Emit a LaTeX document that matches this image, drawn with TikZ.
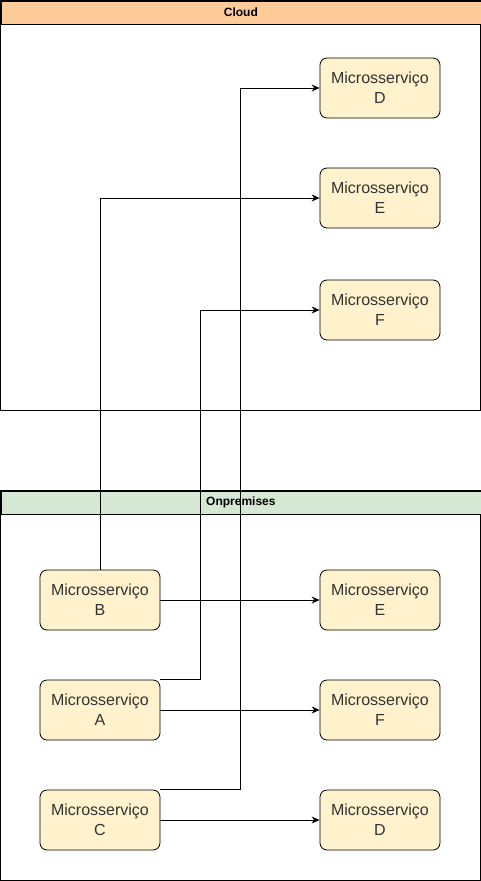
\documentclass[tikz,border=0pt]{standalone}
\usepackage{fontspec}
\setmainfont{Liberation Sans}
\usetikzlibrary{arrows.meta}
\definecolor{cloudorange}{HTML}{FFCC99}
\definecolor{onpremgreen}{HTML}{D5E8D4}
\definecolor{svcyellow}{HTML}{FFF2CC}
\definecolor{svctext}{HTML}{333333}
\tikzset{
    svc/.style={draw, line width=0.8pt, rounded corners=7pt, fill=svcyellow,
        minimum width=120pt, minimum height=60pt, align=center, text=svctext,
        font=\fontsize{16}{20}\selectfont, inner sep=0pt},
    lanehead/.style={draw, line width=0.8pt, minimum width=480pt, minimum height=23pt,
        anchor=north west, inner sep=0pt, font=\fontsize{12}{14}\selectfont\bfseries},
    link/.style={draw, line width=0.8pt, -{Stealth[length=8pt, width=7pt]}}
}

\begin{document}
\begin{tikzpicture}[x=1pt, y=-1pt]

    \useasboundingbox (0, 0) rectangle (481, 881);

    % containers
    \draw[line width=0.8pt, fill=white] (0.5, 0.5) rectangle (480.5, 410.5);
    \node[lanehead, fill=cloudorange] (cloud) at (0.5, 0.5) {Cloud};

    \draw[line width=0.8pt, fill=white] (0.5, 490.5) rectangle (480.5, 880.5);
    \node[lanehead, fill=onpremgreen] (onprem) at (0.5, 490.5) {Onpremises};

    % cloud services
    \node[svc] (cloudD) at (380, 88) {Microsserviço\\D};
    \node[svc] (cloudE) at (380, 198) {Microsserviço\\E};
    \node[svc] (cloudF) at (380, 310) {Microsserviço\\F};

    % on premises services
    \node[svc] (svcB) at (100, 600) {Microsserviço\\B};
    \node[svc] (svcA) at (100, 710) {Microsserviço\\A};
    \node[svc] (svcC) at (100, 820) {Microsserviço\\C};
    \node[svc] (localE) at (380, 600) {Microsserviço\\E};
    \node[svc] (localF) at (380, 710) {Microsserviço\\F};
    \node[svc] (localD) at (380, 820) {Microsserviço\\D};

    % links
    \draw[link] (svcB.north) |- (cloudE.west);
    \draw[link] (svcA.north east) -- ++(40, 0) |- (cloudF.west);
    \draw[link] (svcC.north east) -- ++(80, 0) |- (cloudD.west);

    \draw[link] (svcB) -- (localE);
    \draw[link] (svcA) -- (localF);
    \draw[link] (svcC) -- (localD);

\end{tikzpicture}
\end{document}
